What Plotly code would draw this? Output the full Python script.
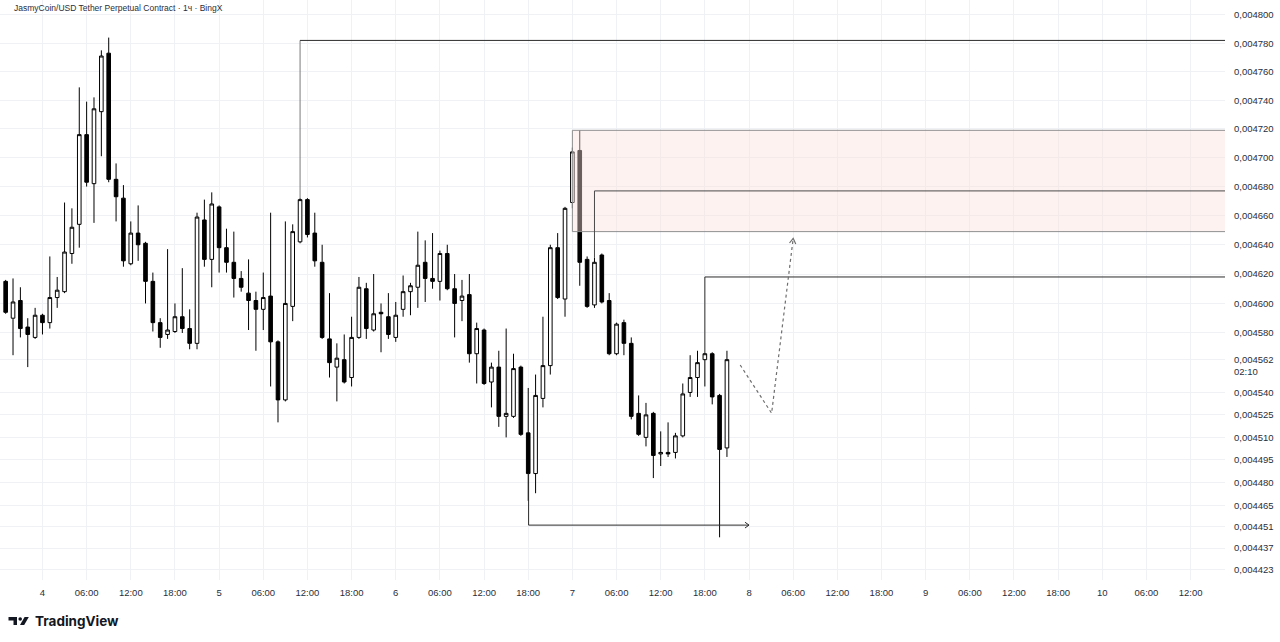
import numpy as np
import pandas as pd
import plotly.graph_objects as go

# ---------------- data (JASMY/USDT perpetual, 1h, BingX) ----------------
open_ = [0.004615, 0.004590, 0.004602, 0.004584, 0.004577, 0.004592, 0.004587, 0.004604, 0.004608, 0.004634,
         0.004654, 0.004716, 0.004682, 0.004732, 0.004773, 0.004685, 0.004672, 0.004627, 0.004648, 0.004641,
         0.004615, 0.004587, 0.004579, 0.004581, 0.004591, 0.004583, 0.004573, 0.004657, 0.004630, 0.004666,
         0.004638, 0.004628, 0.004617, 0.004607, 0.004602, 0.004596, 0.004605, 0.004574, 0.004535, 0.004598,
         0.004642, 0.004671, 0.004648, 0.004628, 0.004576, 0.004557, 0.004562, 0.004550, 0.004577, 0.004610,
         0.004582, 0.004594, 0.004591, 0.004577, 0.004596, 0.004608, 0.004611, 0.004628, 0.004617, 0.004615,
         0.004634, 0.004610, 0.004602, 0.004606, 0.004566, 0.004582, 0.004547, 0.004557, 0.004524, 0.004524,
         0.004557, 0.004513, 0.004486, 0.004536, 0.004558, 0.004638, 0.004603, 0.004669, 0.004705, 0.004630,
         0.004599, 0.004633, 0.004602, 0.004566, 0.004587, 0.004573, 0.004526, 0.004510, 0.004526, 0.004499,
         0.004500, 0.004500, 0.004511, 0.004540, 0.004550, 0.004562, 0.004566, 0.004538, 0.004503]
high = [0.004616, 0.004617, 0.004611, 0.004590, 0.004597, 0.004593, 0.004632, 0.004618, 0.004669, 0.004665,
        0.004749, 0.004739, 0.004742, 0.004775, 0.004784, 0.004696, 0.004681, 0.004656, 0.004667, 0.004642,
        0.004621, 0.004590, 0.004637, 0.004600, 0.004624, 0.004596, 0.004662, 0.004671, 0.004676, 0.004667,
        0.004651, 0.004649, 0.004622, 0.004630, 0.004608, 0.004621, 0.004662, 0.004575, 0.004656, 0.004654,
        0.004672, 0.004672, 0.004662, 0.004640, 0.004607, 0.004573, 0.004579, 0.004591, 0.004618, 0.004614,
        0.004620, 0.004600, 0.004607, 0.004601, 0.004619, 0.004614, 0.004649, 0.004643, 0.004648, 0.004636,
        0.004640, 0.004620, 0.004616, 0.004620, 0.004587, 0.004583, 0.004560, 0.004568, 0.004583, 0.004566,
        0.004558, 0.004543, 0.004552, 0.004591, 0.004640, 0.004648, 0.004666, 0.004707, 0.004719, 0.004632,
        0.004631, 0.004634, 0.004607, 0.004587, 0.004589, 0.004577, 0.004538, 0.004533, 0.004527, 0.004514,
        0.004520, 0.004513, 0.004546, 0.004565, 0.004568, 0.004567, 0.004567, 0.004539, 0.004568]
low = [0.004593, 0.004565, 0.004577, 0.004557, 0.004576, 0.004579, 0.004583, 0.004597, 0.004607, 0.004627,
       0.004638, 0.004680, 0.004655, 0.004701, 0.004683, 0.004656, 0.004625, 0.004626, 0.004629, 0.004600,
       0.004581, 0.004570, 0.004576, 0.004580, 0.004580, 0.004569, 0.004569, 0.004625, 0.004611, 0.004621,
       0.004621, 0.004604, 0.004608, 0.004582, 0.004568, 0.004582, 0.004544, 0.004520, 0.004534, 0.004588,
       0.004641, 0.004645, 0.004625, 0.004576, 0.004550, 0.004534, 0.004546, 0.004544, 0.004576, 0.004576,
       0.004581, 0.004567, 0.004576, 0.004574, 0.004591, 0.004592, 0.004597, 0.004601, 0.004610, 0.004602,
       0.004609, 0.004577, 0.004588, 0.004560, 0.004546, 0.004545, 0.004530, 0.004517, 0.004510, 0.004523,
       0.004511, 0.004468, 0.004473, 0.004530, 0.004552, 0.004603, 0.004591, 0.004665, 0.004612, 0.004597,
       0.004597, 0.004600, 0.004565, 0.004565, 0.004565, 0.004522, 0.004511, 0.004504, 0.004483, 0.004491,
       0.004497, 0.004496, 0.004510, 0.004537, 0.004537, 0.004544, 0.004532, 0.004444, 0.004497]
close = [0.004594, 0.004601, 0.004583, 0.004579, 0.004592, 0.004587, 0.004604, 0.004609, 0.004635, 0.004652,
         0.004716, 0.004683, 0.004734, 0.004771, 0.004685, 0.004673, 0.004629, 0.004648, 0.004640, 0.004615,
         0.004587, 0.004577, 0.004582, 0.004591, 0.004583, 0.004573, 0.004659, 0.004630, 0.004668, 0.004638,
         0.004628, 0.004617, 0.004611, 0.004602, 0.004596, 0.004604, 0.004574, 0.004535, 0.004600, 0.004649,
         0.004671, 0.004647, 0.004629, 0.004577, 0.004560, 0.004563, 0.004547, 0.004577, 0.004611, 0.004583,
         0.004593, 0.004593, 0.004579, 0.004592, 0.004608, 0.004612, 0.004626, 0.004617, 0.004615, 0.004634,
         0.004610, 0.004600, 0.004605, 0.004566, 0.004583, 0.004546, 0.004557, 0.004524, 0.004526, 0.004556,
         0.004512, 0.004486, 0.004538, 0.004558, 0.004638, 0.004604, 0.004665, 0.004704, 0.004628, 0.004598,
         0.004628, 0.004601, 0.004566, 0.004586, 0.004573, 0.004524, 0.004512, 0.004525, 0.004498, 0.004500,
         0.004499, 0.004511, 0.004539, 0.004550, 0.004560, 0.004566, 0.004537, 0.004502, 0.004562]

times = pd.date_range("2025-07-03 19:00", periods=len(open_), freq="h")

price_ticks = [0.004800, 0.004780, 0.004760, 0.004740, 0.004720, 0.004700, 0.004680, 0.004660,
               0.004640, 0.004620, 0.004600, 0.004580, 0.004562, 0.004540, 0.004525, 0.004510,
               0.004495, 0.004480, 0.004465, 0.004451, 0.004437, 0.004423]
price_tick_text = ["0,004800", "0,004780", "0,004760", "0,004740", "0,004720", "0,004700", "0,004680",
                   "0,004660", "0,004640", "0,004620", "0,004600", "0,004580", "0,004562", "0,004540",
                   "0,004525", "0,004510", "0,004495", "0,004480", "0,004465", "0,004451", "0,004437",
                   "0,004423"]
time_ticks = pd.date_range("2025-07-04 00:00", "2025-07-10 12:00", freq="6h")
time_tick_text = ["4", "06:00", "12:00", "18:00", "5", "06:00", "12:00", "18:00",
                  "6", "06:00", "12:00", "18:00", "7", "06:00", "12:00", "18:00",
                  "8", "06:00", "12:00", "18:00", "9", "06:00", "12:00", "18:00",
                  "10", "06:00", "12:00"]

# drawn levels
level_high = 0.004782
zone_top = 0.004719
zone_bottom = 0.004649
level_mid = 0.004677
level_low = 0.004618
target_low = 0.004452

# ---------------- figure ----------------
T0 = pd.Timestamp("2025-07-04 00:00")


def T(h):
    return T0 + pd.Timedelta(hours=h)


FONT = "Liberation Sans, Arial, sans-serif"
TXT = "#2a2e39"

fig = go.Figure()

# supply zone
fig.add_trace(go.Scatter(
    x=[T(72), T(190), T(190), T(72), T(72)],
    y=[zone_top, zone_top, zone_bottom, zone_bottom, zone_top],
    mode="lines", fill="toself", fillcolor="rgba(250,225,220,0.42)",
    line=dict(color="#8f8f8f", width=1), hoverinfo="skip", showlegend=False))

fig.add_trace(go.Candlestick(
    x=times, open=open_, high=high, low=low, close=close,
    increasing=dict(fillcolor="#ffffff", line=dict(color="#000000", width=1)),
    decreasing=dict(fillcolor="#000000", line=dict(color="#000000", width=1)),
    whiskerwidth=0, showlegend=False, hoverinfo="skip"))


def seg(xs, ys, color="#333333", width=1, dash=None):
    fig.add_trace(go.Scatter(x=xs, y=ys, mode="lines",
                             line=dict(color=color, width=width, dash=dash),
                             hoverinfo="skip", showlegend=False))


i35 = 35 + 5
i75 = 75 + 5
i90 = 90 + 5
i66 = 66 + 5
# top level
seg([T(35), T(35)], [high[i35], level_high], color="#7a7a7a")
seg([T(35), T(190)], [level_high, level_high], color="#2b2b2b")
# mid level inside zone
seg([T(75), T(75), T(190)], [high[i75], level_mid, level_mid], color="#4a4a4a")
# lower level
seg([T(90), T(90), T(190)], [high[i90], level_low, level_low], color="#2b2b2b")
# liquidity arrow
seg([T(66.05), T(66.05), T(96.0)], [close[i66], target_low, target_low], color="#2b2b2b")
seg([T(95.45), T(96.0), T(95.45)], [target_low + 0.0000019, target_low, target_low - 0.0000019],
    color="#2b2b2b")
# projected path
seg([T(94.8), T(99.07), T(102.0)], [0.0045584, 0.0045261, 0.0046444], color="#6e6e6e",
    width=1.2, dash="3px,3px")
seg([T(101.5), T(102.0), T(102.35)], [0.0046412, 0.0046444, 0.0046406], color="#6e6e6e", width=1.2)

# ---------------- layout ----------------
PW, PH = 1225.0, 580.0


def px(x, y):
    return x / PW, 1 - y / PH


annotations = []
tx, ty = px(12, 8)
annotations.append(dict(text="JasmyCoin/USD Tether Perpetual Contract · 1ч · BingX",
                        x=tx, y=ty, xref="paper", yref="paper", xanchor="left", yanchor="middle",
                        showarrow=False, font=dict(family=FONT, size=8.5, color=TXT)))
cx, cy = px(1232, 371)
annotations.append(dict(text="02:10", x=cx, y=cy, xref="paper", yref="paper", xanchor="left",
                        yanchor="middle", showarrow=False, font=dict(family=FONT, size=9.5, color=TXT)))
lx, ly = px(33, 621)
annotations.append(dict(text="<b>TradingView</b>", x=lx, y=ly, xref="paper", yref="paper",
                        xanchor="left", yanchor="middle", showarrow=False,
                        font=dict(family="Inter, Roboto, sans-serif", size=13.5, color="#131722")))

shapes = []
LOGO = "#131722"


def rect(x0, y0, x1, y1):
    a = px(x0, y0)
    b = px(x1, y1)
    shapes.append(dict(type="rect", xref="paper", yref="paper", x0=a[0], y0=b[1], x1=b[0], y1=a[1],
                       fillcolor=LOGO, line=dict(width=0), layer="above"))


rect(8.5, 617.0, 17.0, 620.5)
rect(13.5, 617.0, 17.0, 625.0)
c0 = px(18.4, 617.2)
c1 = px(22.0, 620.8)
shapes.append(dict(type="circle", xref="paper", yref="paper", x0=c0[0], y0=c1[1], x1=c1[0], y1=c0[1],
                   fillcolor=LOGO, line=dict(width=0), layer="above"))
pts = [px(24.6, 617.0), px(28.8, 617.0), px(24.2, 625.0), px(20.0, 625.0)]
path = "M " + " L ".join(f"{p[0]},{p[1]}" for p in pts) + " Z"
shapes.append(dict(type="path", xref="paper", yref="paper", path=path, fillcolor=LOGO,
                   line=dict(width=0), layer="above"))

fig.update_layout(
    width=1280, height=642,
    margin=dict(l=0, r=55, t=0, b=62, autoexpand=False),
    paper_bgcolor="#ffffff", plot_bgcolor="#ffffff",
    showlegend=False,
    annotations=annotations,
    shapes=shapes,
    xaxis=dict(
        type="date",
        range=[T(-5.77), T(160.67)],
        tickvals=list(time_ticks), ticktext=time_tick_text,
        showgrid=True, gridcolor="#f0f1f4", gridwidth=1,
        zeroline=False, showline=False, ticks="",
        tickfont=dict(family=FONT, size=9.5, color=TXT),
        ticklabelstandoff=5,
        rangeslider=dict(visible=False), automargin=False,
    ),
    yaxis=dict(
        type="log", side="right",
        range=[np.log10(0.0044161), np.log10(0.0048106)],
        tickvals=price_ticks, ticktext=price_tick_text,
        showgrid=True, gridcolor="#f0f1f4", gridwidth=1,
        zeroline=False, showline=False, ticks="",
        tickfont=dict(family=FONT, size=9.5, color=TXT),
        ticklabelstandoff=8, automargin=False,
    ),
)

fig.write_html("out.html", config={"displayModeBar": False})
